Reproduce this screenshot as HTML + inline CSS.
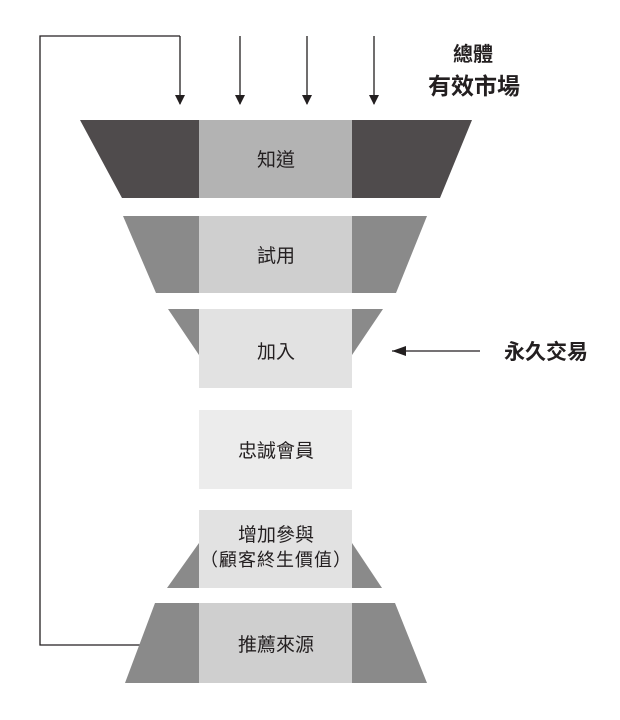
<!DOCTYPE html>
<html><head><meta charset="utf-8"><style>
body{margin:0;background:#fff;}
svg text{font-family:"Liberation Sans","Noto Sans CJK TC",sans-serif;fill:#231f20;}
</style></head><body>
<svg width="620" height="715" viewBox="0 0 620 715" xmlns="http://www.w3.org/2000/svg">
<defs><marker id="a" markerWidth="10" markerHeight="10" refX="9" refY="5" orient="auto" markerUnits="userSpaceOnUse"><path d="M0,0 L10,5 L0,10 Z" fill="#231f20"/></marker>
<marker id="b" markerWidth="14" markerHeight="10" refX="14" refY="5" orient="auto" markerUnits="userSpaceOnUse"><path d="M0,0 L14,5 L0,10 Z" fill="#231f20"/></marker></defs>
<g stroke="#231f20" stroke-width="1.3" fill="none">
<line x1="180" y1="36" x2="180" y2="104" marker-end="url(#a)"/>
<line x1="240" y1="36" x2="240" y2="104" marker-end="url(#a)"/>
<line x1="307" y1="36" x2="307" y2="104" marker-end="url(#a)"/>
<line x1="374" y1="36" x2="374" y2="104" marker-end="url(#a)"/>
<polyline points="180,36 40,36 40,645 140,645"/>
<line x1="480" y1="351" x2="392" y2="351" marker-end="url(#b)"/>
</g>
<polygon points="80,120 199,120 199,198 122,198" fill="#4f4b4c"/>
<polygon points="352,120 472,120 440,198 352,198" fill="#4f4b4c"/>
<rect x="199" y="120" width="153" height="78" fill="#b3b3b3"/>
<polygon points="123,216 199,216 199,293 156,293" fill="#8a8a8a"/>
<polygon points="352,216 427,216 396,293 352,293" fill="#8a8a8a"/>
<rect x="199" y="216" width="153" height="77" fill="#cfcfcf"/>
<polygon points="168,309 199,309 199,355" fill="#8a8a8a"/>
<polygon points="352,309 383,309 352,355" fill="#8a8a8a"/>
<rect x="199" y="309" width="153" height="79" fill="#e2e2e2"/>
<rect x="199" y="410" width="153" height="79" fill="#ececec"/>
<polygon points="199,543 199,588 167,588" fill="#8a8a8a"/>
<polygon points="352,543 352,588 382,588" fill="#8a8a8a"/>
<rect x="199" y="510" width="153" height="78" fill="#e2e2e2"/>
<polygon points="155,603 199,603 199,683 125,683" fill="#8a8a8a"/>
<polygon points="352,603 395,603 427,683 352,683" fill="#8a8a8a"/>
<rect x="199" y="603" width="153" height="80" fill="#cfcfcf"/>
<g font-size="19" text-anchor="middle">
<text x="276" y="166">知道</text>
<text x="276" y="262">試用</text>
<text x="276" y="358">加入</text>
<text x="276" y="457">忠誠會員</text>
<text x="276" y="541">增加參與</text>
<text x="276" y="566" font-size="18" letter-spacing="1">（顧客終生價值）</text>
<text x="276" y="651">推薦來源</text>
</g>
<text x="473" y="61" font-size="20" font-weight="bold" text-anchor="middle">總體</text>
<text x="474" y="94" font-size="23" font-weight="bold" text-anchor="middle">有效市場</text>
<text x="546" y="359" font-size="21" font-weight="bold" text-anchor="middle">永久交易</text>
</svg>
</body></html>
